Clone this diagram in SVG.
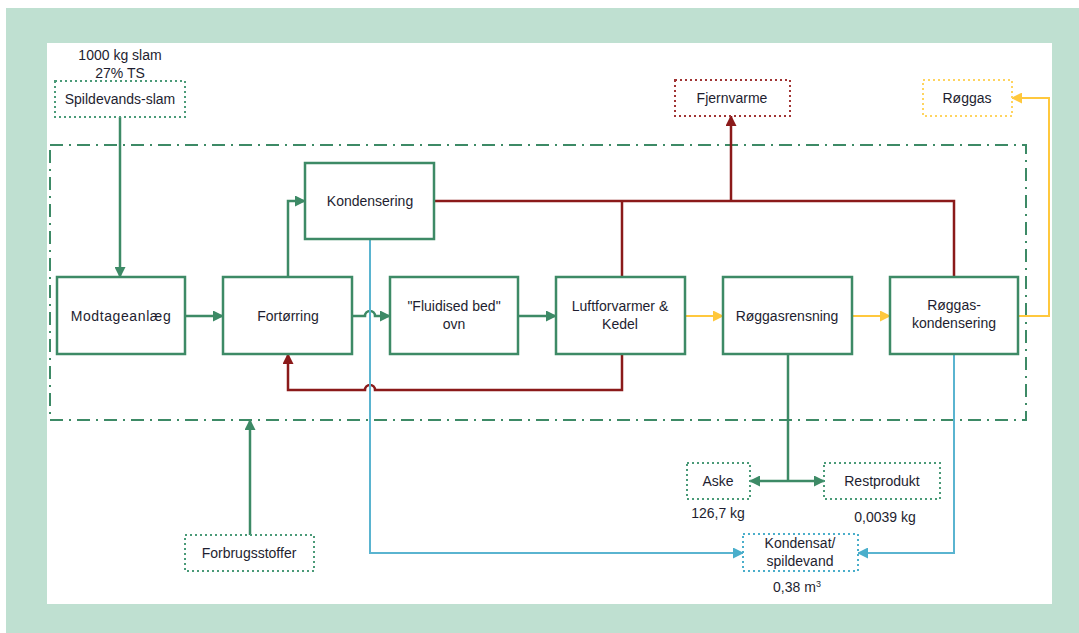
<svg xmlns="http://www.w3.org/2000/svg" width="1079" height="633" viewBox="0 0 1079 633">
  <defs>
    <style>
      .proc { fill: #ffffff; stroke: #3d8a66; stroke-width: 2.5; }
      .ext { fill: #ffffff; stroke-width: 2; stroke-dasharray: 2 3; }
      .ext-g { stroke: #4a9a78; }
      .ext-r { stroke: #a03434; }
      .ext-y { stroke: #ffd45e; }
      .ext-b { stroke: #4aaecb; }
      .lbl { font-family: "Liberation Sans", Arial, sans-serif; font-size: 14px; fill: #1e1e30; text-anchor: middle; }
      .g { fill: none; stroke: #3d8a66; stroke-width: 2.5; }
      .r { fill: none; stroke: #8b1a1a; stroke-width: 2.5; }
      .y { fill: none; stroke: #ffc83d; stroke-width: 2; }
      .b { fill: none; stroke: #5ab4d0; stroke-width: 2; }
    </style>
    <marker id="ah-g" markerWidth="11" markerHeight="11" refX="10" refY="5.5" orient="auto" markerUnits="userSpaceOnUse" viewBox="0 0 11 11">
      <path d="M0,0 L11,5.5 L0,11 z" fill="#3d8a66"/>
    </marker>
    <marker id="ah-r" markerWidth="11" markerHeight="11" refX="10" refY="5.5" orient="auto" markerUnits="userSpaceOnUse" viewBox="0 0 11 11">
      <path d="M0,0 L11,5.5 L0,11 z" fill="#8b1a1a"/>
    </marker>
    <marker id="ah-y" markerWidth="11" markerHeight="11" refX="10" refY="5.5" orient="auto" markerUnits="userSpaceOnUse" viewBox="0 0 11 11">
      <path d="M0,0 L11,5.5 L0,11 z" fill="#ffc83d"/>
    </marker>
    <marker id="ah-b" markerWidth="11" markerHeight="11" refX="10" refY="5.5" orient="auto" markerUnits="userSpaceOnUse" viewBox="0 0 11 11">
      <path d="M0,0 L11,5.5 L0,11 z" fill="#4aaecb"/>
    </marker>
  </defs>

  <!-- page background and frame -->
  <rect x="0" y="0" width="1079" height="633" fill="#ffffff"/>
  <rect x="6" y="8" width="1073" height="625" fill="#bfe0d1"/>
  <rect x="47" y="43" width="1005" height="561" fill="#ffffff"/>

  <!-- plant boundary -->
  <rect id="boundary" x="50" y="145" width="976" height="275" fill="none" stroke="#3d8a66" stroke-width="2" stroke-dasharray="13 6 2 6"/>

  <!-- connectors -->
  <g id="connectors">
    <!-- green material flow -->
    <path class="g" d="M120,117 V277" marker-end="url(#ah-g)"/>
    <path class="g" d="M185,316 H223" marker-end="url(#ah-g)"/>
    <path class="g" d="M288,277 V201 H305" marker-end="url(#ah-g)"/>
    <path class="g" d="M352,316 H365 A5,5 0 0 1 375,316 H390" marker-end="url(#ah-g)"/>
    <path class="g" d="M518,316 H556" marker-end="url(#ah-g)"/>
    <path class="g" d="M250,535 V420" marker-end="url(#ah-g)"/>
    <path class="g" d="M788,354 V481"/>
    <path class="g" d="M788,481 H750" marker-end="url(#ah-g)"/>
    <path class="g" d="M788,481 H824" marker-end="url(#ah-g)"/>

    <!-- flue gas -->
    <path class="y" d="M685,316 H723" marker-end="url(#ah-y)"/>
    <path class="y" d="M852,316 H890" marker-end="url(#ah-y)"/>
    <path class="y" d="M1018,316 H1049 V98 H1012" marker-end="url(#ah-y)"/>

    <!-- heat -->
    <path class="r" d="M434,201 H954 V277"/>
    <path class="r" d="M622,201 V277"/>
    <path class="r" d="M731,201 V116" marker-end="url(#ah-r)"/>
    <path class="r" d="M622,354 V390 H375 A5,5 0 0 0 365,390 H288 V354" marker-end="url(#ah-r)"/>

    <!-- condensate -->
    <path class="b" d="M370,239 V553 H743" marker-end="url(#ah-b)"/>
    <path class="b" d="M954,354 V553 H858" marker-end="url(#ah-b)"/>
  </g>

  <!-- external inputs / outputs -->
  <g id="node-slam">
    <text class="lbl" x="120" y="60">1000 kg slam</text>
    <text class="lbl" x="120" y="78">27% TS</text>
    <rect class="ext ext-g" x="55" y="81" width="130" height="36"/>
    <text class="lbl" x="120" y="104">Spildevands-slam</text>
  </g>
  <g id="node-fjernvarme">
    <rect class="ext ext-r" x="675" y="80" width="115" height="36"/>
    <text class="lbl" x="732" y="103">Fjernvarme</text>
  </g>
  <g id="node-roggas">
    <rect class="ext ext-y" x="923" y="80" width="89" height="36"/>
    <text class="lbl" x="967" y="103">Røggas</text>
  </g>
  <g id="node-aske">
    <rect class="ext ext-g" x="687" y="463" width="63" height="36"/>
    <text class="lbl" x="718" y="486">Aske</text>
    <text class="lbl" x="718" y="518">126,7 kg</text>
  </g>
  <g id="node-restprodukt">
    <rect class="ext ext-g" x="824" y="463" width="116" height="36"/>
    <text class="lbl" x="882" y="486">Restprodukt</text>
    <text class="lbl" x="885" y="522">0,0039 kg</text>
  </g>
  <g id="node-kondensat">
    <rect class="ext ext-b" x="743" y="534" width="115" height="37"/>
    <text class="lbl" x="800" y="548">Kondensat/</text>
    <text class="lbl" x="800" y="566">spildevand</text>
    <text class="lbl" x="797" y="592">0,38 m<tspan font-size="9" dy="-5">3</tspan></text>
  </g>
  <g id="node-forbrugsstoffer">
    <rect class="ext ext-g" x="185" y="535" width="129" height="36"/>
    <text class="lbl" x="249" y="558">Forbrugsstoffer</text>
  </g>

  <!-- process units -->
  <g id="node-modtageanlaeg">
    <rect class="proc" x="57" y="277" width="128" height="77"/>
    <text class="lbl" x="121" y="321" letter-spacing="0.6">Modtageanlæg</text>
  </g>
  <g id="node-fortorring">
    <rect class="proc" x="223" y="277" width="129" height="77"/>
    <text class="lbl" x="288" y="321">Fortørring</text>
  </g>
  <g id="node-kondensering">
    <rect class="proc" x="305" y="163" width="129" height="76"/>
    <text class="lbl" x="370" y="206">Kondensering</text>
  </g>
  <g id="node-ovn">
    <rect class="proc" x="390" y="277" width="128" height="77"/>
    <text class="lbl" x="454" y="311">"Fluidised bed"</text>
    <text class="lbl" x="454" y="329">ovn</text>
  </g>
  <g id="node-kedel">
    <rect class="proc" x="556" y="277" width="129" height="77"/>
    <text class="lbl" x="620" y="311">Luftforvarmer &amp;</text>
    <text class="lbl" x="620" y="329">Kedel</text>
  </g>
  <g id="node-roggasrensning">
    <rect class="proc" x="723" y="277" width="129" height="77"/>
    <text class="lbl" x="787" y="321">Røggasrensning</text>
  </g>
  <g id="node-roggaskondensering">
    <rect class="proc" x="890" y="277" width="128" height="77"/>
    <text class="lbl" x="954" y="310">Røggas-</text>
    <text class="lbl" x="954" y="328">kondensering</text>
  </g>
</svg>
